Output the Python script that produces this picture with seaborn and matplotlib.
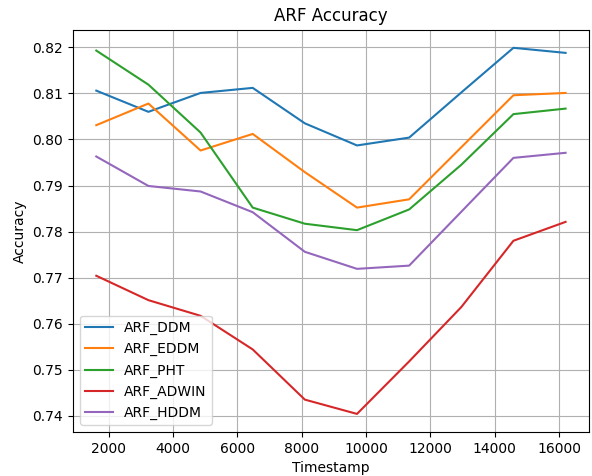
import numpy as np
import pandas as pd
import seaborn as sns
import matplotlib.pyplot as plt

# Timestamps and accuracy values
timestamps = [1620, 3240, 4860, 6480, 8100, 9720, 11340, 12960, 14580, 16200]
arf_ddm = [0.8106, 0.8060, 0.8101, 0.8112, 0.8035, 0.7987, 0.8004, 0.8102, 0.8199, 0.8188]
arf_eddm = [0.8031, 0.8078, 0.7976, 0.8012, 0.7929, 0.7852, 0.7870, 0.7983, 0.8096, 0.8101]
arf_pht = [0.8193, 0.8119, 0.8015, 0.7852, 0.7817, 0.7803, 0.7848, 0.7945, 0.8055, 0.8067]
arf_adwin = [0.7704, 0.7651, 0.7617, 0.7544, 0.7435, 0.7404, 0.7518, 0.7636, 0.7780, 0.7821]
arf_hddm = [0.7963, 0.7899, 0.7887, 0.7842, 0.7756, 0.7719, 0.7726, 0.7843, 0.7960, 0.7971]

series = {
    'ARF_DDM': arf_ddm,
    'ARF_EDDM': arf_eddm,
    'ARF_PHT': arf_pht,
    'ARF_ADWIN': arf_adwin,
    'ARF_HDDM': arf_hddm,
}

colors = sns.color_palette('tab10', 5)

fig, ax = plt.subplots(figsize=(5.92, 4.76), dpi=100)
fig.subplots_adjust(left=0.123, right=0.995, top=0.938, bottom=0.092)

for (name, values), color in zip(series.items(), colors):
    df = pd.DataFrame({'Timestamp': timestamps, 'Accuracy': values})
    sns.lineplot(data=df, x='Timestamp', y='Accuracy', label=name, color=color, ax=ax)

ax.set_title('ARF Accuracy')
ax.set_xlabel('Timestamp')
ax.set_ylabel('Accuracy')
ax.grid(True)
ax.legend(loc='lower left')

plt.savefig('out.png')
